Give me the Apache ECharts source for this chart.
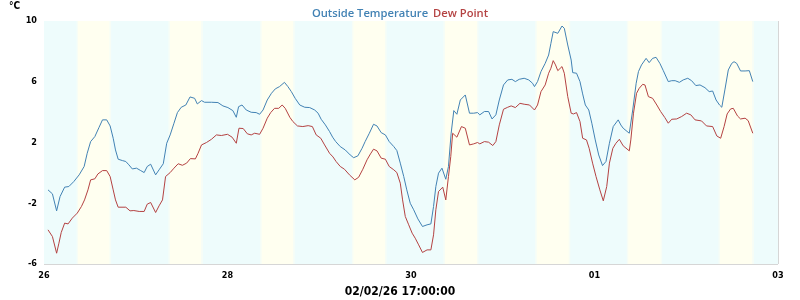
<!DOCTYPE html>
<html><head><meta charset="utf-8">
<script src="https://cdn.jsdelivr.net/npm/echarts@6/dist/echarts.min.js"></script>
<style>html,body{margin:0;padding:0;background:#fff}#c{width:800px;height:300px}</style>
</head><body><div id="c"></div>
<script>
// hours since 26 Jan 00:00
const tempHours = [1.05,2.2,3.3,4.2,5.4,6.5,7.8,9.2,10.5,11.3,12.2,13.3,14.4,15.3,16.4,17.3,18.1,18.7,19.4,20.5,21.4,22.2,23.1,24.2,25.3,26.2,27.0,27.9,29.2,30.1,31.2,32.1,33.0,34.0,34.9,35.9,37.1,38.2,39.4,40.1,41.2,42.0,43.8,45.5,46.8,48.1,49.4,50.3,50.9,51.8,52.9,54.2,55.5,56.4,57.3,58.4,59.5,60.5,61.6,62.9,63.8,64.7,65.7,66.9,68.2,69.5,70.8,71.7,72.5,73.6,74.7,75.5,76.3,77.5,78.8,80.1,81.0,82.1,83.2,84.0,85.1,86.2,87.1,88.2,89.3,90.3,91.5,92.3,93.2,94.1,94.9,95.8,96.7,97.8,99.0,100.2,101.2,101.9,102.5,103.2,104.1,105.1,105.8,106.5,107.2,108.0,108.9,110.2,111.3,112.4,113.4,114.0,115.2,116.3,117.2,118.2,119.1,120.2,121.3,122.4,123.3,124.3,125.6,126.8,127.8,128.3,129.1,130.0,131.1,132.0,132.6,133.2,134.4,135.5,136.1,137.0,137.9,138.3,139.3,140.2,140.9,141.6,142.5,143.3,144.2,145.1,146.1,147.0,147.9,148.9,150.2,150.9,151.5,153.1,154.0,154.9,155.5,156.3,157.5,158.3,159.2,160.1,161.1,162.0,163.3,164.2,165.1,166.2,167.2,168.4,169.4,170.5,171.6,172.9,174.0,174.9,175.8,176.7,177.3,178.1,179.0,179.9,180.5,181.2,182.2,183.4,184.5,185.4];
const tempValues = [-1.12,-1.38,-2.5,-1.56,-0.94,-0.9,-0.57,-0.13,0.42,1.29,2.06,2.39,3.0,3.49,3.49,3.09,2.28,1.51,0.9,0.81,0.75,0.53,0.26,0.31,0.15,0.02,0.42,0.57,-0.13,0.2,0.6,1.95,2.5,3.27,3.97,4.32,4.47,5.0,4.91,4.54,4.76,4.65,4.65,4.63,4.41,4.3,4.1,3.66,4.36,4.47,4.14,3.99,3.97,3.86,4.14,4.8,5.24,5.53,5.68,5.96,5.68,5.35,4.91,4.47,4.32,4.3,4.14,3.93,3.53,3.16,2.72,2.35,2.06,1.73,1.51,1.18,1.0,1.12,1.62,2.06,2.61,3.2,3.09,2.65,2.5,2.06,1.73,1.47,0.64,-0.24,-1.12,-2.0,-2.43,-3.03,-3.53,-3.42,-3.36,-2.21,-0.9,-0.02,0.31,-0.42,0.42,2.61,4.1,3.86,4.8,5.13,3.93,3.93,3.97,3.82,4.04,4.04,3.55,3.82,4.8,5.79,6.12,6.16,6.01,6.16,6.23,6.12,5.9,5.68,6.01,6.67,7.21,7.76,8.53,9.3,9.19,9.67,9.52,8.42,7.43,6.6,6.56,6.01,5.2,4.47,4.14,3.27,2.17,1.18,0.48,0.75,1.95,3.05,3.49,3.15,2.94,2.61,4.14,5.9,6.67,7.11,7.54,7.26,7.54,7.61,7.21,6.73,6.01,6.07,6.07,5.96,6.12,6.23,6.07,5.75,5.79,5.61,5.35,5.39,4.8,4.47,4.32,5.46,6.78,7.21,7.32,7.21,6.71,6.71,6.73,6.01];
const dewHours = [1.05,2.2,3.3,3.9,4.5,5.4,6.3,7.4,8.7,9.8,10.6,11.5,12.2,13.3,14.1,15.3,16.4,17.3,18.1,18.7,19.4,21.4,22.5,23.5,24.9,26.2,27.0,27.9,29.2,30.1,31.0,31.8,33.0,34.0,35.1,36.2,37.3,38.3,39.6,40.3,41.2,42.5,43.8,45.1,46.4,48.0,49.2,50.3,51.0,52.1,53.2,54.2,55.1,56.4,57.3,58.4,59.3,60.3,61.4,62.3,63.1,64.3,65.1,66.3,67.7,69.1,70.2,71.2,72.4,73.4,74.7,75.6,76.4,77.5,78.6,79.9,81.3,82.3,83.4,84.5,85.4,86.2,87.1,88.2,89.3,90.3,91.5,92.3,93.2,93.8,94.5,95.4,96.3,97.1,98.0,99.0,100.2,101.2,101.9,102.5,103.2,104.3,105.1,105.8,106.4,106.9,108.0,109.2,110.2,111.3,112.4,113.4,114.0,115.2,116.3,117.4,118.2,119.1,120.2,121.3,122.2,123.3,124.5,125.6,127.0,128.3,129.1,130.0,131.1,132.0,132.6,133.2,133.8,134.4,135.5,136.1,137.0,137.9,138.5,139.3,140.2,140.9,141.9,142.6,143.5,144.4,145.4,146.3,147.2,147.9,148.8,149.6,150.5,151.5,153.1,153.5,154.2,155.0,155.7,156.6,157.2,158.1,159.2,160.3,161.3,162.4,163.3,164.2,165.5,166.8,168.1,169.2,170.3,172.0,173.3,174.9,176.0,177.0,177.9,178.7,179.6,180.3,181.4,182.2,183.4,184.2,185.4];
const dewValues = [-3.75,-4.19,-5.29,-4.63,-3.93,-3.31,-3.36,-2.98,-2.65,-2.21,-1.78,-1.12,-0.46,-0.39,-0.07,0.15,0.15,-0.24,-1.12,-1.78,-2.26,-2.26,-2.5,-2.48,-2.54,-2.54,-2.06,-1.95,-2.61,-2.17,-1.78,-0.24,0.02,0.31,0.6,0.5,0.64,0.94,0.92,1.29,1.84,2.0,2.21,2.5,2.46,2.54,2.35,1.95,2.94,2.92,2.57,2.5,2.61,2.54,2.94,3.6,3.97,4.25,4.25,4.47,4.25,3.66,3.38,3.09,3.05,3.11,3.05,2.5,2.28,1.84,1.29,1.05,0.75,0.42,0.24,-0.13,-0.46,-0.29,0.24,0.86,1.25,1.56,1.45,0.97,0.9,0.42,0.2,0.02,-0.68,-1.78,-2.87,-3.42,-3.97,-4.3,-4.74,-5.24,-5.07,-5.07,-4.08,-2.43,-1.23,-0.94,-1.78,-0.24,1.07,2.61,2.35,3.05,2.94,1.84,1.91,2.0,1.91,2.06,2.02,1.8,2.06,3.16,4.19,4.32,4.41,4.3,4.58,4.52,4.47,4.14,4.47,5.35,5.79,6.56,6.89,7.39,7.11,6.73,7.0,6.56,5.02,3.93,3.88,3.97,3.38,2.28,2.17,1.62,0.64,-0.24,-1.12,-1.84,-0.9,0.64,1.62,1.95,2.21,1.78,1.45,2.17,3.93,5.24,5.57,5.83,5.79,5.02,4.91,4.47,4.04,3.64,3.27,3.53,3.55,3.71,3.93,3.82,3.49,3.42,3.09,3.05,2.43,2.28,3.05,3.88,4.21,4.25,3.75,3.55,3.6,3.44,2.61];
// daylight (hours after midnight) for each day 26 Jan .. 2 Feb
const dayStart = [8.9,8.9,8.9,8.9,8.85,8.85,8.8,8.8];
const dayEnd   = [17.2,17.2,17.25,17.25,17.3,17.3,17.35,17.35];
const xTickLabels = ['26','','28','','30','','01','','03'];
const yTickLabels = [-6,-2,2,6,10];
const seriesNames = ['Outside Temperature','Dew Point'];
const bottomLabel = '02/02/26 17:00:00';
const unitLabel = '°C';

const FONT = '"DejaVu Sans Condensed", "DejaVu Sans", sans-serif';
const NIGHT = '#eefcfc', DAY = '#fffff0', EDGE = '#f7fdf6';
const areas = [[{xAxis:0, itemStyle:{color:NIGHT}},{xAxis:192}]];
for (let d = 0; d < dayStart.length; d++) {
  const s = d*24 + dayStart[d], e = d*24 + dayEnd[d];
  areas.push([{xAxis:s-0.35, itemStyle:{color:EDGE}},{xAxis:s}]);
  areas.push([{xAxis:s, itemStyle:{color:DAY}},{xAxis:e}]);
  areas.push([{xAxis:e, itemStyle:{color:EDGE}},{xAxis:e+0.35}]);
}
const chart = echarts.init(document.getElementById('c'), null, {renderer:'canvas'});
chart.setOption({
  animation:false,
  backgroundColor:'#ffffff',
  title:{
    text:'{a|'+seriesNames[0]+'} {b|'+seriesNames[1]+'}',
    left:'center', top:0,
    textStyle:{rich:{
      a:{color:'#4282b4', fontFamily:'"Open Sans", sans-serif', fontWeight:600, fontSize:11.2},
      b:{color:'#b44242', fontFamily:'"Open Sans", sans-serif', fontWeight:600, fontSize:11.2}
    }}
  },
  graphic:[
    {type:'text', left:9, top:1, style:{text:unitLabel, font:'bold 10px '+FONT, fill:'#000'}},
    {type:'text', x:400, y:292, style:{text:bottomLabel, font:'bold 12px '+FONT, fill:'#000', align:'center', verticalAlign:'middle'}}
  ],
  grid:{left:44, right:22, top:21, bottom:36, containLabel:false, show:false},
  xAxis:{type:'value', min:0, max:192, interval:24, z:1,
    axisLine:{show:false}, axisTick:{show:false},
    splitLine:{show:true, lineStyle:{color:'#d6d6d6', width:1}},
    axisLabel:{margin:7, color:'#000', fontFamily:FONT, fontWeight:'bold', fontSize:9,
      formatter:v => xTickLabels[Math.round(v/24)] || ''}},
  yAxis:{type:'value', min:-6, max:10, interval:2, z:1,
    axisLine:{show:false}, axisTick:{show:false},
    splitLine:{show:true, lineStyle:{color:'#d6d6d6', width:1}},
    axisLabel:{margin:7, color:'#000', fontFamily:FONT, fontWeight:'bold', fontSize:9,
      formatter:v => yTickLabels.includes(v) ? String(v) : ''}},
  series:[
    {type:'line', z:0, data:[], silent:true, markArea:{silent:true, data:areas}},
    {name:seriesNames[0], type:'line', z:2, showSymbol:false, symbol:'none',
      data:tempHours.map((h,i)=>[h,tempValues[i]]), lineStyle:{color:'#4282b4', width:1}},
    {name:seriesNames[1], type:'line', z:2, showSymbol:false, symbol:'none',
      data:dewHours.map((h,i)=>[h,dewValues[i]]), lineStyle:{color:'#b44242', width:1}}
  ]
});
</script>
</body></html>
